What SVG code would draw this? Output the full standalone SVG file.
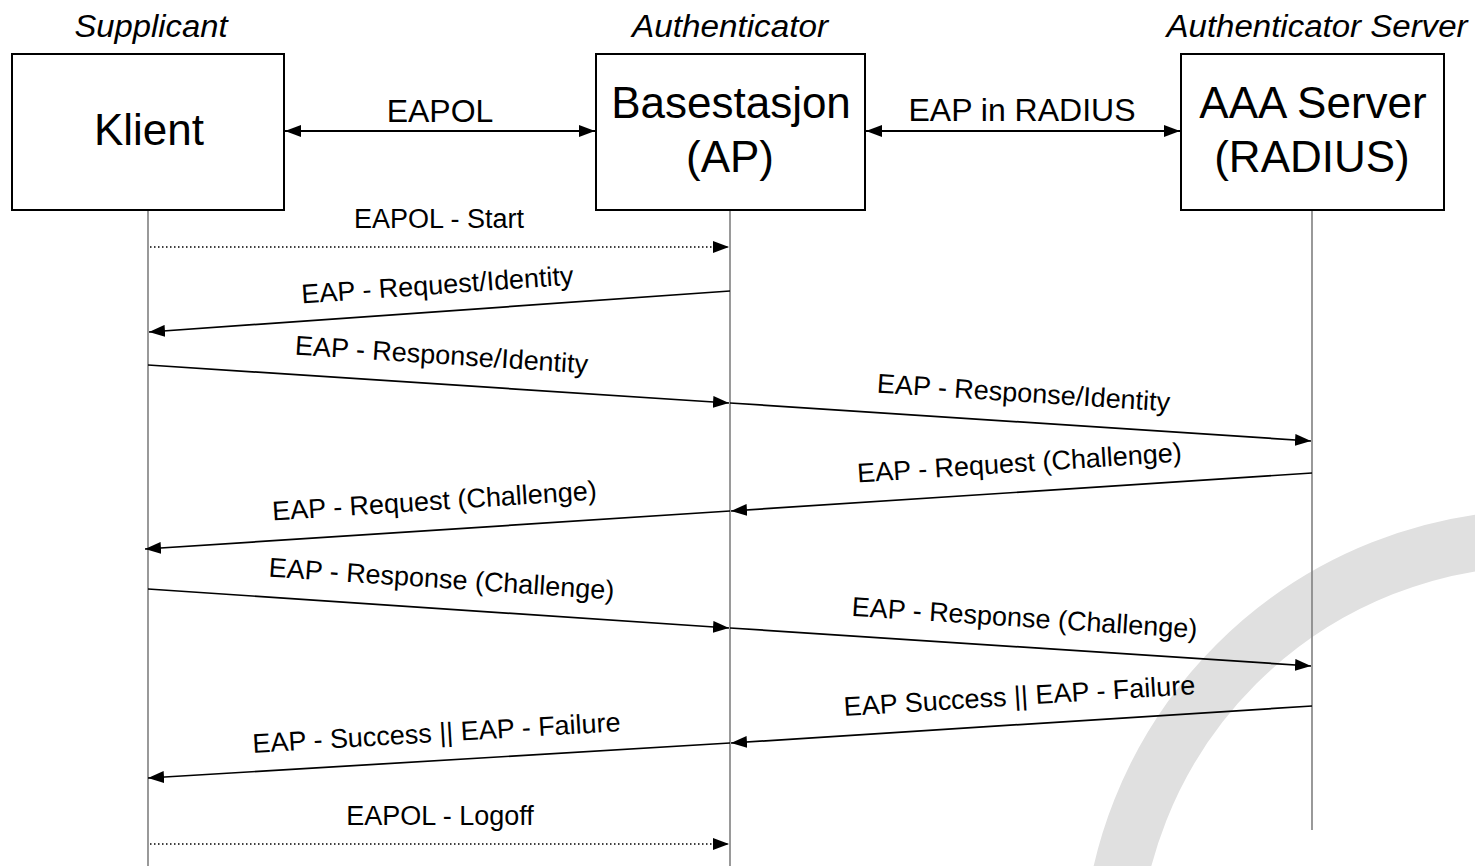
<svg xmlns="http://www.w3.org/2000/svg" width="1475" height="866" viewBox="0 0 1475 866">
<defs>
<marker id="ah" viewBox="0 0 16 12" refX="16" refY="6" markerWidth="16" markerHeight="12" markerUnits="userSpaceOnUse" orient="auto-start-reverse">
<path d="M0,0 L16,6 L0,12 z" fill="#000"/>
</marker>
<style>
.box{fill:#fff;stroke:#000;stroke-width:2}
.life{stroke:#808080;stroke-width:1.6;fill:none}
.msg{stroke:#000;stroke-width:1.7;fill:none;marker-end:url(#ah)}
.dot{stroke:#000;stroke-width:1.6;fill:none;stroke-dasharray:1.5 2.5;marker-end:url(#ah)}
.both{stroke:#000;stroke-width:2;fill:none;marker-start:url(#ah);marker-end:url(#ah)}
.role{font-family:"Liberation Sans",Arial,sans-serif;font-style:italic;font-size:31px;text-anchor:middle;fill:#000}
.big{font-family:"Liberation Sans",Arial,sans-serif;font-size:44px;text-anchor:middle;fill:#000}
.lbl{font-family:"Liberation Sans",Arial,sans-serif;font-size:27px;text-anchor:middle;fill:#000}
.top{font-family:"Liberation Sans",Arial,sans-serif;font-size:32px;text-anchor:middle;fill:#000}
</style>
</defs>
<rect width="1475" height="866" fill="#fff"/>
<circle cx="1541" cy="969" r="431" fill="none" stroke="#e0e0e0" stroke-width="56"/>

<g id="lifelines">
<line class="life" x1="148" y1="210" x2="148" y2="866"/>
<line class="life" x1="730" y1="210" x2="730" y2="866"/>
<line class="life" x1="1312" y1="210" x2="1312" y2="830"/>
</g>

<g id="supplicant">
<text class="role" x="151" y="37" textLength="153" lengthAdjust="spacingAndGlyphs">Supplicant</text>
<rect class="box" x="12" y="54" width="272" height="156"/>
<text class="big" x="149" y="145">Klient</text>
</g>

<g id="authenticator">
<text class="role" x="730" y="37" textLength="196" lengthAdjust="spacingAndGlyphs">Authenticator</text>
<rect class="box" x="596" y="54" width="269" height="156"/>
<text class="big" x="731" y="118">Basestasjon</text>
<text class="big" x="730" y="172">(AP)</text>
</g>

<g id="server">
<text class="role" x="1317" y="37" textLength="301" lengthAdjust="spacingAndGlyphs">Authenticator Server</text>
<rect class="box" x="1181" y="54" width="263" height="156"/>
<text class="big" x="1313" y="118">AAA Server</text>
<text class="big" x="1312" y="172">(RADIUS)</text>
</g>

<g id="connectors">
<line class="both" x1="285" y1="131" x2="595" y2="131"/>
<text class="top" x="440" y="122">EAPOL</text>
<line class="both" x1="866" y1="131" x2="1180" y2="131"/>
<text class="top" x="1022" y="121">EAP in RADIUS</text>

<line class="dot" x1="150" y1="247" x2="729" y2="247"/>
<text class="lbl" x="439" y="228">EAPOL - Start</text>

<line class="msg" x1="730" y1="291" x2="149" y2="332"/>
<text class="lbl" transform="translate(438,294) rotate(-4)">EAP - Request/Identity</text>

<line class="msg" x1="148" y1="365" x2="729" y2="403"/>
<text class="lbl" transform="translate(441,364) rotate(3.7)">EAP - Response/Identity</text>

<line class="msg" x1="730" y1="403" x2="1311" y2="441"/>
<text class="lbl" transform="translate(1023,402) rotate(3.7)">EAP - Response/Identity</text>

<line class="msg" x1="1312" y1="473" x2="731" y2="511"/>
<text class="lbl" transform="translate(1020,472) rotate(-3.7)">EAP - Request (Challenge)</text>

<line class="msg" x1="730" y1="511" x2="145" y2="549"/>
<text class="lbl" transform="translate(435,510) rotate(-3.7)">EAP - Request (Challenge)</text>

<line class="msg" x1="148" y1="589" x2="729" y2="628"/>
<text class="lbl" transform="translate(441,588) rotate(3.8)">EAP - Response (Challenge)</text>

<line class="msg" x1="730" y1="628" x2="1311" y2="666"/>
<text class="lbl" transform="translate(1024,627) rotate(3.7)">EAP - Response (Challenge)</text>

<line class="msg" x1="1312" y1="706" x2="731" y2="743"/>
<text class="lbl" transform="translate(1020,705) rotate(-3.6)">EAP Success || EAP - Failure</text>

<line class="msg" x1="730" y1="743" x2="148" y2="778"/>
<text class="lbl" transform="translate(437,742) rotate(-3.4)">EAP - Success || EAP - Failure</text>

<line class="dot" x1="150" y1="844" x2="729" y2="844"/>
<text class="lbl" x="440" y="825">EAPOL - Logoff</text>
</g>
</svg>
